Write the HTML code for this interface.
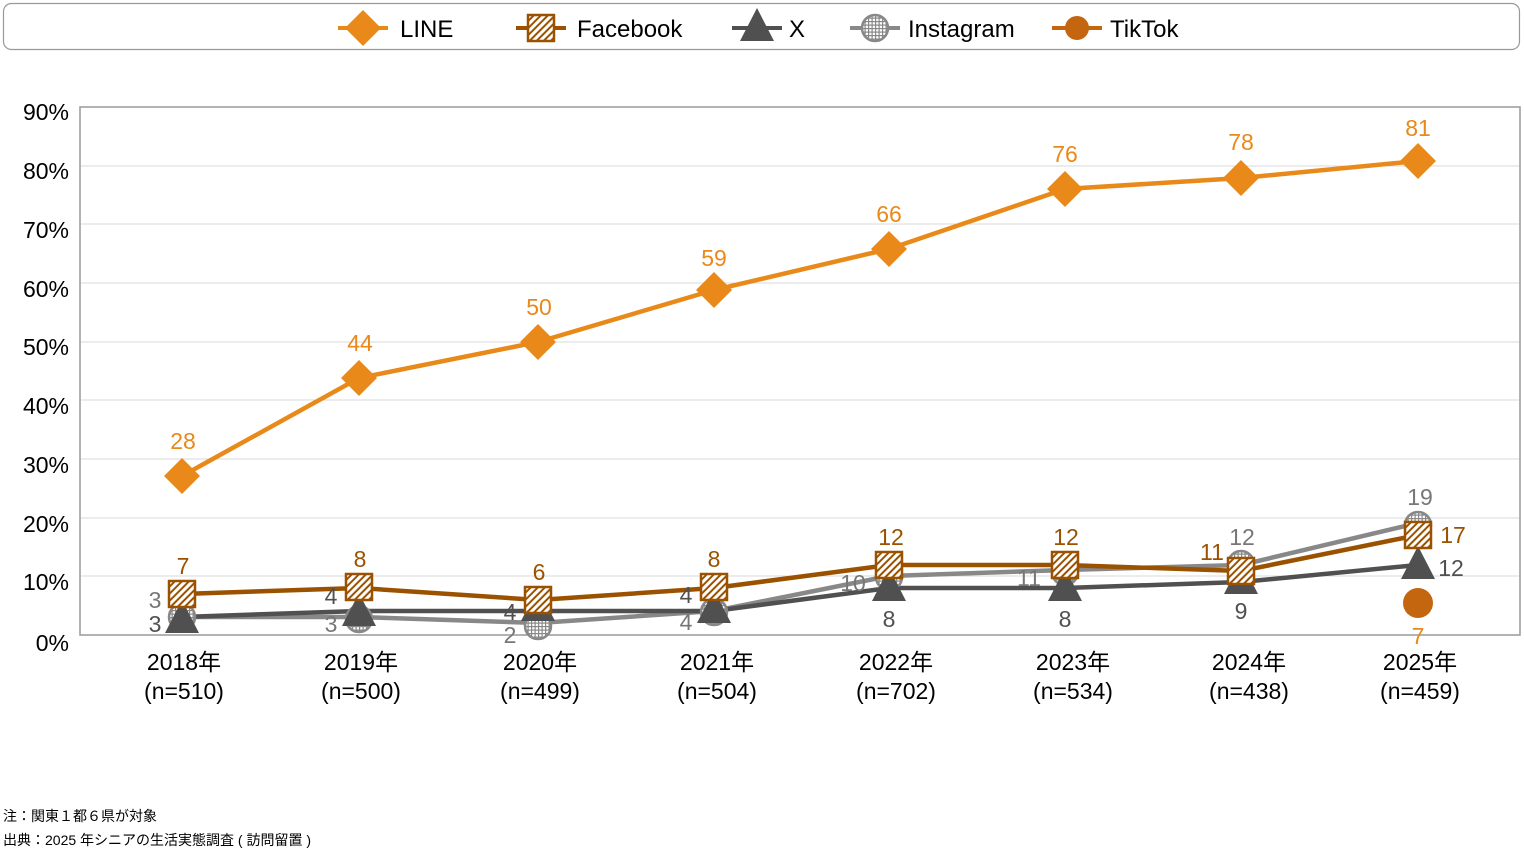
<!DOCTYPE html>
<html><head><meta charset="utf-8"><style>
body{margin:0;background:#fff;}
svg{display:block;font-family:"Liberation Sans","Noto Sans CJK JP",sans-serif;}
</style></head><body>
<svg width="1524" height="851" viewBox="0 0 1524 851" xmlns="http://www.w3.org/2000/svg">
<defs>
<pattern id="hatch" width="5" height="5" patternUnits="userSpaceOnUse" patternTransform="rotate(45)">
<rect width="5" height="5" fill="#fff"/><rect width="2" height="5" fill="#9A5200"/></pattern>
<pattern id="grid" width="3.5" height="3.5" patternUnits="userSpaceOnUse">
<rect width="3.5" height="3.5" fill="#fff"/><rect width="1.2" height="3.5" fill="#888"/><rect width="3.5" height="1.2" fill="#888"/></pattern>
<g id="fb"><rect x="-13" y="-13" width="26" height="26" fill="url(#hatch)" stroke="#9A5200" stroke-width="2.5"/></g>
<g id="ig"><circle r="13" fill="url(#grid)" stroke="#888" stroke-width="2.5"/></g>
<g id="tri"><polygon points="0,-22 -17,11 17,11" fill="#505050"/></g>
<g id="dia"><polygon points="0,-18 -18,0 0,18 18,0" fill="#E8891A"/></g>
</defs>
<rect x="3.5" y="3.5" width="1516" height="46" rx="8" fill="#fff" stroke="#999" stroke-width="1.2"/>
<g font-size="24" fill="#000">
<line x1="338" y1="28" x2="388" y2="28" stroke="#E8891A" stroke-width="4"/><use href="#dia" x="363" y="28"/>
<text x="400" y="37">LINE</text>
<line x1="516" y1="28" x2="566" y2="28" stroke="#9A5200" stroke-width="4"/><use href="#fb" x="541" y="28"/>
<text x="577" y="37">Facebook</text>
<line x1="732" y1="28" x2="782" y2="28" stroke="#505050" stroke-width="4"/><use href="#tri" x="757" y="30"/>
<text x="789" y="37">X</text>
<line x1="850" y1="28" x2="900" y2="28" stroke="#888" stroke-width="4"/><use href="#ig" x="875" y="28"/>
<text x="908" y="37">Instagram</text>
<line x1="1052" y1="28" x2="1102" y2="28" stroke="#C4650F" stroke-width="4"/><circle cx="1077" cy="28" r="12" fill="#C4650F"/>
<text x="1110" y="37">TikTok</text>
</g>
<g stroke="#d9d9d9" stroke-width="1">
<line x1="80" y1="107" x2="1520" y2="107"/><line x1="80" y1="166" x2="1520" y2="166"/>
<line x1="80" y1="224" x2="1520" y2="224"/><line x1="80" y1="283" x2="1520" y2="283"/>
<line x1="80" y1="342" x2="1520" y2="342"/><line x1="80" y1="400" x2="1520" y2="400"/>
<line x1="80" y1="459" x2="1520" y2="459"/><line x1="80" y1="518" x2="1520" y2="518"/>
<line x1="80" y1="576" x2="1520" y2="576"/>
</g>
<rect x="80" y="107" width="1440" height="528" fill="none" stroke="#999" stroke-width="1.5"/>
<g font-size="23" fill="#000" text-anchor="end">
<text x="69" y="120">90%</text><text x="69" y="179">80%</text><text x="69" y="238">70%</text>
<text x="69" y="297">60%</text><text x="69" y="355">50%</text><text x="69" y="414">40%</text>
<text x="69" y="473">30%</text><text x="69" y="532">20%</text><text x="69" y="590">10%</text>
<text x="69" y="651">0%</text>
</g>
<g font-size="23" fill="#000" text-anchor="middle">
<text x="184" y="670">2018年</text><text x="184" y="699">(n=510)</text>
<text x="361" y="670">2019年</text><text x="361" y="699">(n=500)</text>
<text x="540" y="670">2020年</text><text x="540" y="699">(n=499)</text>
<text x="717" y="670">2021年</text><text x="717" y="699">(n=504)</text>
<text x="896" y="670">2022年</text><text x="896" y="699">(n=702)</text>
<text x="1073" y="670">2023年</text><text x="1073" y="699">(n=534)</text>
<text x="1249" y="670">2024年</text><text x="1249" y="699">(n=438)</text>
<text x="1420" y="670">2025年</text><text x="1420" y="699">(n=459)</text>
</g>
<polyline fill="none" stroke="#888" stroke-width="4.5" points="182,617 359,617 538,623 714,611 889,576 1065,570 1241,565 1418,523"/>
<polyline fill="none" stroke="#505050" stroke-width="4.5" points="182,617 359,611 538,611 714,611 889,588 1065,588 1241,582 1418,565"/>
<polyline fill="none" stroke="#9A5200" stroke-width="4.5" points="182,594 359,588 538,600 714,588 889,565 1065,565 1241,571 1418,535"/>
<polyline fill="none" stroke="#E8891A" stroke-width="4.5" points="182,476 359,378 538,342 714,290 889,249 1065,189 1241,178 1418,161"/>
<use href="#ig" x="182" y="617"/><use href="#ig" x="359" y="619"/><use href="#ig" x="538" y="626"/><use href="#ig" x="714" y="612"/>
<use href="#ig" x="889" y="577"/><use href="#ig" x="1065" y="572"/><use href="#ig" x="1241" y="564"/><use href="#ig" x="1418" y="525"/>
<use href="#tri" x="182" y="622"/><use href="#tri" x="359" y="615"/><use href="#tri" x="538" y="610"/><use href="#tri" x="714" y="612"/>
<use href="#tri" x="889" y="590"/><use href="#tri" x="1065" y="590"/><use href="#tri" x="1241" y="583"/><use href="#tri" x="1418" y="568"/>
<use href="#fb" x="182" y="594"/><use href="#fb" x="359" y="587"/><use href="#fb" x="538" y="600"/><use href="#fb" x="714" y="587"/>
<use href="#fb" x="889" y="565"/><use href="#fb" x="1065" y="565"/><use href="#fb" x="1241" y="571"/><use href="#fb" x="1418" y="535"/>
<use href="#dia" x="182" y="476"/><use href="#dia" x="359" y="378"/><use href="#dia" x="538" y="342"/><use href="#dia" x="714" y="290"/>
<use href="#dia" x="889" y="249"/><use href="#dia" x="1065" y="189"/><use href="#dia" x="1241" y="178"/><use href="#dia" x="1418" y="161"/>
<circle cx="1418" cy="603" r="15" fill="#C4650F"/>
<g font-size="23" text-anchor="middle" fill="#E8891A">
<text x="183" y="449">28</text><text x="360" y="351">44</text><text x="539" y="315">50</text><text x="714" y="266">59</text>
<text x="889" y="222">66</text><text x="1065" y="162">76</text><text x="1241" y="150">78</text><text x="1418" y="136">81</text>
<text x="1418" y="644">7</text>
</g>
<g font-size="23" text-anchor="middle" fill="#9A5200">
<text x="183" y="574">7</text><text x="360" y="567">8</text><text x="539" y="580">6</text><text x="714" y="567">8</text>
<text x="891" y="545">12</text><text x="1066" y="545">12</text><text x="1212" y="560">11</text><text x="1453" y="543">17</text>
</g>
<g font-size="23" text-anchor="middle" fill="#777">
<text x="155" y="608">3</text><text x="331" y="632">3</text><text x="510" y="643">2</text><text x="686" y="630">4</text>
<text x="853" y="591">10</text><text x="1029" y="586">11</text><text x="1242" y="545">12</text><text x="1420" y="505">19</text>
</g>
<g font-size="23" text-anchor="middle" fill="#505050">
<text x="155" y="632">3</text><text x="331" y="604">4</text><text x="510" y="620">4</text><text x="686" y="603">4</text>
<text x="889" y="627">8</text><text x="1065" y="627">8</text><text x="1241" y="619">9</text><text x="1451" y="576">12</text>
</g>
<g font-size="14" fill="#000">
<text x="3" y="821">注：関東１都６県が対象</text>
<text x="3" y="845">出典：2025 年シニアの生活実態調査 ( 訪問留置 )</text>
</g>
</svg>
</body></html>
